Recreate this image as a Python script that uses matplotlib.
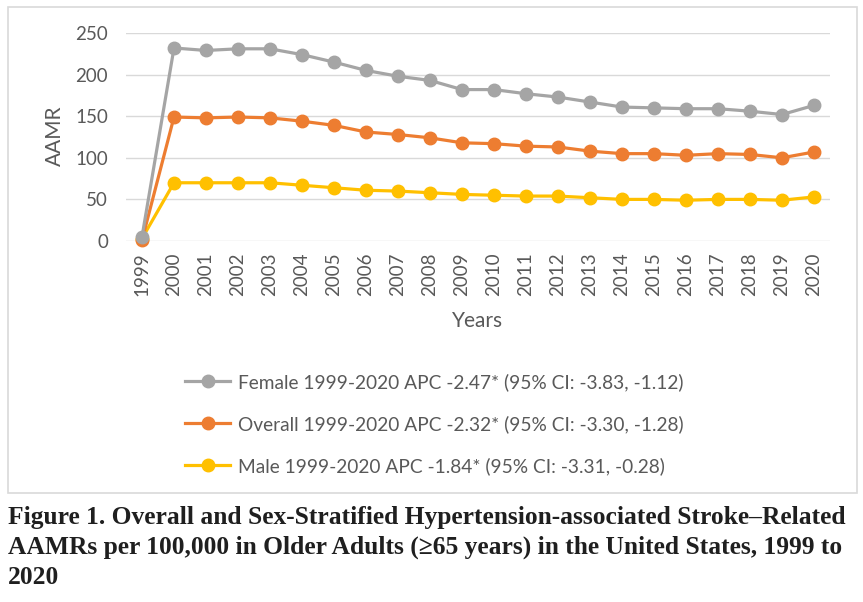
import matplotlib
matplotlib.use("Agg")
import matplotlib.pyplot as plt
from matplotlib.patches import Rectangle

years = [str(y) for y in range(1999, 2021)]
female = [5, 232, 229, 231, 231, 224, 215, 205, 198, 193, 182, 182, 177, 173, 167, 161, 160, 159, 159, 156, 152, 163]
overall = [1, 149, 148, 149, 148, 144, 139, 131, 128, 124, 118, 117, 114, 113, 108, 105, 105, 103, 105, 104, 100, 107]
male = [3, 70, 70, 70, 70, 67, 64, 61, 60, 58, 56, 55, 54, 54, 52, 50, 50, 49, 50, 50, 49, 53]

labels = [
    "Female 1999-2020 APC -2.47* (95% CI: -3.83, -1.12)",
    "Overall 1999-2020 APC -2.32* (95% CI: -3.30, -1.28)",
    "Male 1999-2020 APC -1.84* (95% CI: -3.31, -0.28)",
]
colors = ["#A5A5A5", "#ED7D31", "#FFC000"]
caption = ("Figure 1. Overall and Sex-Stratified Hypertension-associated Stroke\u2013Related\n"
           "AAMRs per 100,000 in Older Adults (\u226565 years) in the United States, 1999 to\n"
           "2020")

W, H = 863, 602
fig = plt.figure(figsize=(W / 100, H / 100), dpi=100)
plt.rcParams['font.family'] = ['Lato', 'DejaVu Sans']
textc = "#595959"

# outer border
fig.patches.append(Rectangle((8 / W, 1 - 493 / H), (857 - 8) / W, (493 - 7) / H,
                             transform=fig.transFigure, fill=False,
                             edgecolor="#D9D9D9", linewidth=1.2))

ax = fig.add_axes([126 / W, 1 - 241 / H, (830 - 126) / W, (241 - 33) / H])
x = list(range(len(years)))
series = [(female, 0), (overall, 1), (male, 2)]
zorders = [5, 4, 3]
handles = []
for (vals, i) in series:
    h, = ax.plot(x, vals, color=colors[i], linewidth=2.3, marker="o", markersize=9,
                 label=labels[i], zorder=zorders[i], clip_on=False)
    handles.append(h)

ax.set_xlim(-0.5, len(years) - 0.5)
ax.set_ylim(0, 250)
ax.set_yticks([0, 50, 100, 150, 200, 250])
ax.set_xticks(x)
ax.set_xticklabels(years, rotation=90)
ax.grid(axis="y", color="#D9D9D9", linewidth=1)
ax.set_axisbelow(True)
for s in ax.spines.values():
    s.set_visible(False)
ax.tick_params(axis="both", length=0, colors=textc, labelsize=13.5)
ax.tick_params(axis="y", pad=13)
ax.tick_params(axis="x", pad=8)

fig.text(55 / W, 1 - 136 / H, "AAMR", rotation=90, ha="center", va="center",
         fontsize=15, color=textc)
fig.text(478 / W, 1 - 321 / H, "Years", ha="center", va="center",
         fontsize=15, color=textc)

leg = fig.legend(handles=handles, labels=labels, loc="upper left",
                 bbox_to_anchor=(185 / W, 1 - 373 / H), frameon=False,
                 fontsize=13.75, handlelength=2.36, handletextpad=0.42,
                 labelspacing=1.26, borderaxespad=0, borderpad=0)
for t in leg.get_texts():
    t.set_color(textc)

fig.text(8 / W, 1 - 506 / H, caption, ha="left", va="top",
         fontsize=18.4, family=["Liberation Serif", "DejaVu Serif"],
         fontweight="bold", color="#1f1f1f", linespacing=1.38)

fig.savefig("out.png", dpi=100)
